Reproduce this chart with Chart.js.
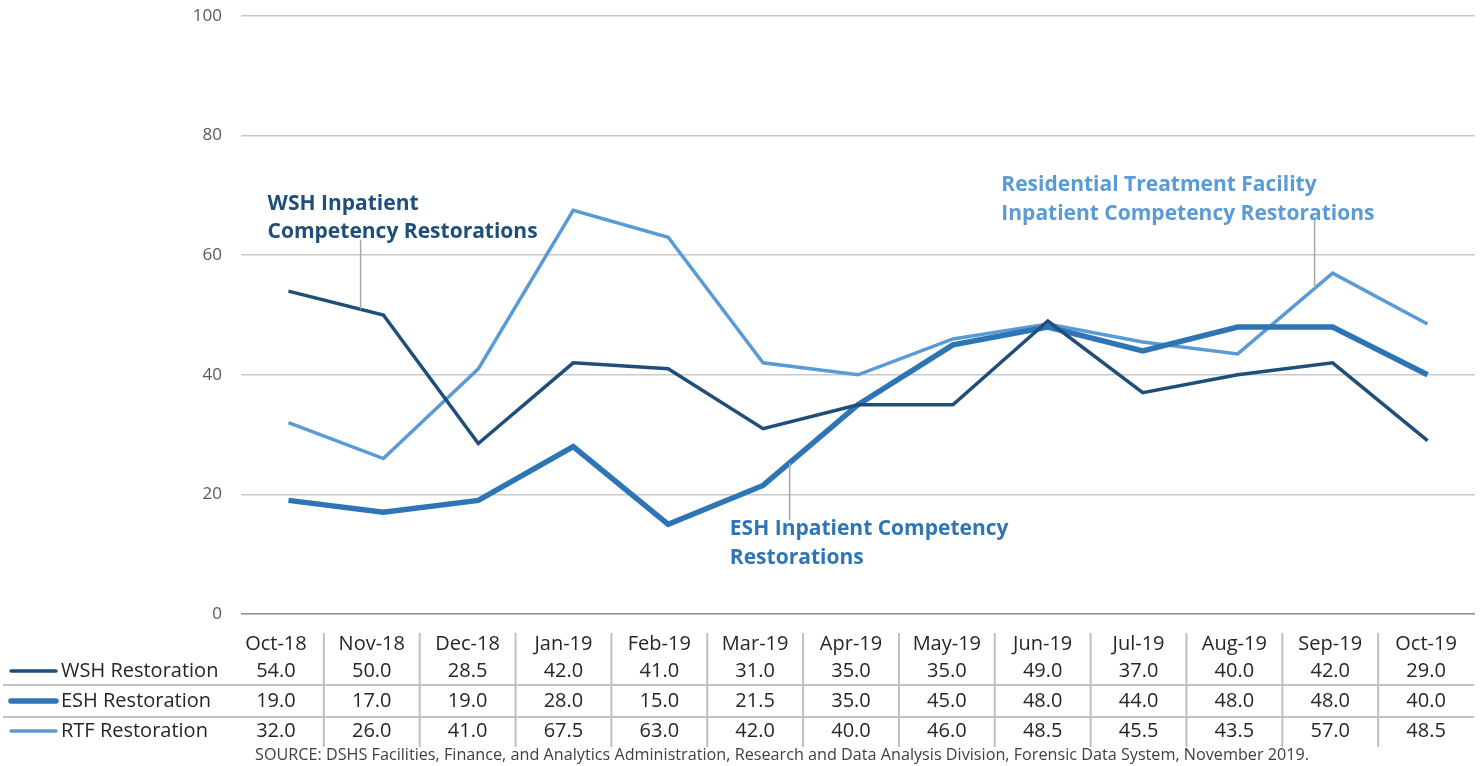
<!DOCTYPE html>
<html>
<head>
<meta charset="utf-8">
<script src="https://cdn.jsdelivr.net/npm/chart.js@4"></script>
<style>
  body { margin: 0; background: #fff; }
  #wrap { width: 1481px; height: 766px; }
</style>
</head>
<body>
<div id="wrap"><canvas id="chart" width="1481" height="766"></canvas></div>
<script>
const months = ['Oct-18', 'Nov-18', 'Dec-18', 'Jan-19', 'Feb-19', 'Mar-19', 'Apr-19', 'May-19', 'Jun-19', 'Jul-19', 'Aug-19', 'Sep-19', 'Oct-19'];
const wsh = [54.0, 50.0, 28.5, 42.0, 41.0, 31.0, 35.0, 35.0, 49.0, 37.0, 40.0, 42.0, 29.0];
const esh = [19.0, 17.0, 19.0, 28.0, 15.0, 21.5, 35.0, 45.0, 48.0, 44.0, 48.0, 48.0, 40.0];
const rtf = [32.0, 26.0, 41.0, 67.5, 63.0, 42.0, 40.0, 46.0, 48.5, 45.5, 43.5, 57.0, 48.5];
const yTicks = [0, 20, 40, 60, 80, 100];
const sourceNote = 'SOURCE: DSHS Facilities, Finance, and Analytics Administration, Research and Data Analysis Division, Forensic Data System, November 2019.';

const colWsh = '#1F4E79';
const colEsh = '#2E75B6';
const colRtf = '#5B9BD5';

// callout labels: text lines, colour, anchor (category index, value), leader line
const callouts = [
    { lines: ['WSH Inpatient', 'Competency Restorations'], color: colWsh, at: [-0.22, 67.6], leader: { idx: 0.76, top: 62.6, series: wsh } },
    { lines: ['ESH Inpatient Competency', 'Restorations'], color: colEsh, at: [4.65, 13.2], leader: { idx: 5.28, bottom: 15.7, series: esh } },
    { lines: ['Residential Treatment Facility', 'Inpatient Competency Restorations'], color: colRtf, at: [7.51, 70.7], leader: { idx: 10.81, top: 66.2, series: rtf } },
];

const tableRows = [
    { name: 'WSH Restoration', values: wsh, color: colWsh, width: 3.5 },
    { name: 'ESH Restoration', values: esh, color: colEsh, width: 5.5 },
    { name: 'RTF Restoration', values: rtf, color: colRtf, width: 3.5 },
];

function lerpSeries(series, idx) {
    const i = Math.floor(idx);
    const t = idx - i;
    return series[i] + (series[i + 1] - series[i]) * t;
}

const calloutPlugin = {
    id: 'callouts',
    afterDatasetsDraw(chart) {
        const { ctx, scales: { x, y } } = chart;
        ctx.save();
        callouts.forEach(c => {
            const lx = x.getPixelForValue(c.leader.idx);
            const onLine = y.getPixelForValue(lerpSeries(c.leader.series, c.leader.idx));
            const other = y.getPixelForValue(c.leader.top !== undefined ? c.leader.top : c.leader.bottom);
            ctx.strokeStyle = '#A6A6A6';
            ctx.lineWidth = 1.5;
            ctx.beginPath();
            ctx.moveTo(lx, other);
            ctx.lineTo(lx, onLine);
            ctx.stroke();

            ctx.fillStyle = c.color;
            ctx.font = 'bold 21px "Open Sans"';
            ctx.textAlign = 'left';
            ctx.textBaseline = 'alphabetic';
            const tx = x.getPixelForValue(c.at[0]);
            const ty = y.getPixelForValue(c.at[1]);
            c.lines.forEach((line, k) => ctx.fillText(line, tx, ty + k * 28.5));
        });
        ctx.restore();
    }
};

const tablePlugin = {
    id: 'dataTable',
    afterDraw(chart) {
        const { ctx, chartArea } = chart;
        const n = months.length;
        const tLeft = chartArea.left - 13;
        const tRight = chartArea.right - 1;
        const colW = (tRight - tLeft) / n;
        const baselines = [650, 677, 707, 737];
        ctx.save();

        // grid of the table
        ctx.strokeStyle = '#BFBFBF';
        ctx.lineWidth = 2;
        ctx.beginPath();
        [685, 717].forEach(yy => { ctx.moveTo(3, yy); ctx.lineTo(tRight, yy); });
        for (let i = 1; i < n; i++) {
            const xx = tLeft + colW * i;
            ctx.moveTo(xx, 633);
            ctx.lineTo(xx, 747);
        }
        ctx.stroke();

        ctx.fillStyle = '#262626';
        ctx.font = '20px "Open Sans"';
        ctx.textBaseline = 'alphabetic';
        ctx.textAlign = 'center';
        months.forEach((m, i) => ctx.fillText(m, tLeft + colW * (i + 0.5), baselines[0]));

        tableRows.forEach((row, r) => {
            const by = baselines[r + 1];
            ctx.strokeStyle = row.color;
            ctx.lineWidth = row.width;
            ctx.lineCap = 'round';
            ctx.beginPath();
            ctx.moveTo(11, by - 6);
            ctx.lineTo(56, by - 6);
            ctx.stroke();

            ctx.fillStyle = '#262626';
            ctx.textAlign = 'left';
            ctx.fillText(row.name, 61, by);
            ctx.textAlign = 'center';
            row.values.forEach((v, i) => ctx.fillText(v.toFixed(1), tLeft + colW * (i + 0.5), by));
        });

        ctx.fillStyle = '#404040';
        ctx.font = '16.2px "Open Sans"';
        ctx.textAlign = 'left';
        ctx.fillText(sourceNote, 255, 760);
        ctx.restore();
    }
};

const data = {
    labels: months,
    datasets: [
        {
            label: 'WSH Restoration',
            data: wsh,
            borderColor: colWsh,
            backgroundColor: colWsh,
            borderWidth: 3.5,
            tension: 0,
            pointRadius: 0,
        },
        {
            label: 'ESH Restoration',
            data: esh,
            borderColor: colEsh,
            backgroundColor: colEsh,
            borderWidth: 5.5,
            tension: 0,
            pointRadius: 0,
        },
        {
            label: 'RTF Restoration',
            data: rtf,
            borderColor: colRtf,
            backgroundColor: colRtf,
            borderWidth: 3.5,
            tension: 0,
            pointRadius: 0,
        }
    ]
};

const config = {
    type: 'line',
    data: data,
    options: {
        responsive: false,
        animation: false,
        layout: { padding: { top: 16, bottom: 152, left: 0, right: 6 } },
        scales: {
            x: {
                display: false,
                offset: true,
            },
            y: {
                min: 0,
                max: 100,
                afterFit: (scale) => {
                    scale.width = 241;
                    scale.paddingTop = 0;
                    scale.paddingBottom = 0;
                },
                afterBuildTicks: (scale) => { scale.ticks = yTicks.map(v => ({ value: v })); },
                border: { display: false },
                grid: {
                    color: (c) => (c.tick && c.tick.value === 0 ? '#8C8C8C' : '#C9C9C9'),
                    lineWidth: 1.5,
                    drawTicks: false,
                },
                ticks: {
                    padding: 19,
                    color: '#595959',
                    font: { family: 'Open Sans', size: 17 },
                },
            },
        },
        plugins: {
            legend: { display: false },
            tooltip: { enabled: false },
        },
    },
    plugins: [calloutPlugin, tablePlugin],
};

const ctx = document.getElementById('chart').getContext('2d');
const chart = new Chart(ctx, config);
</script>
</body>
</html>
